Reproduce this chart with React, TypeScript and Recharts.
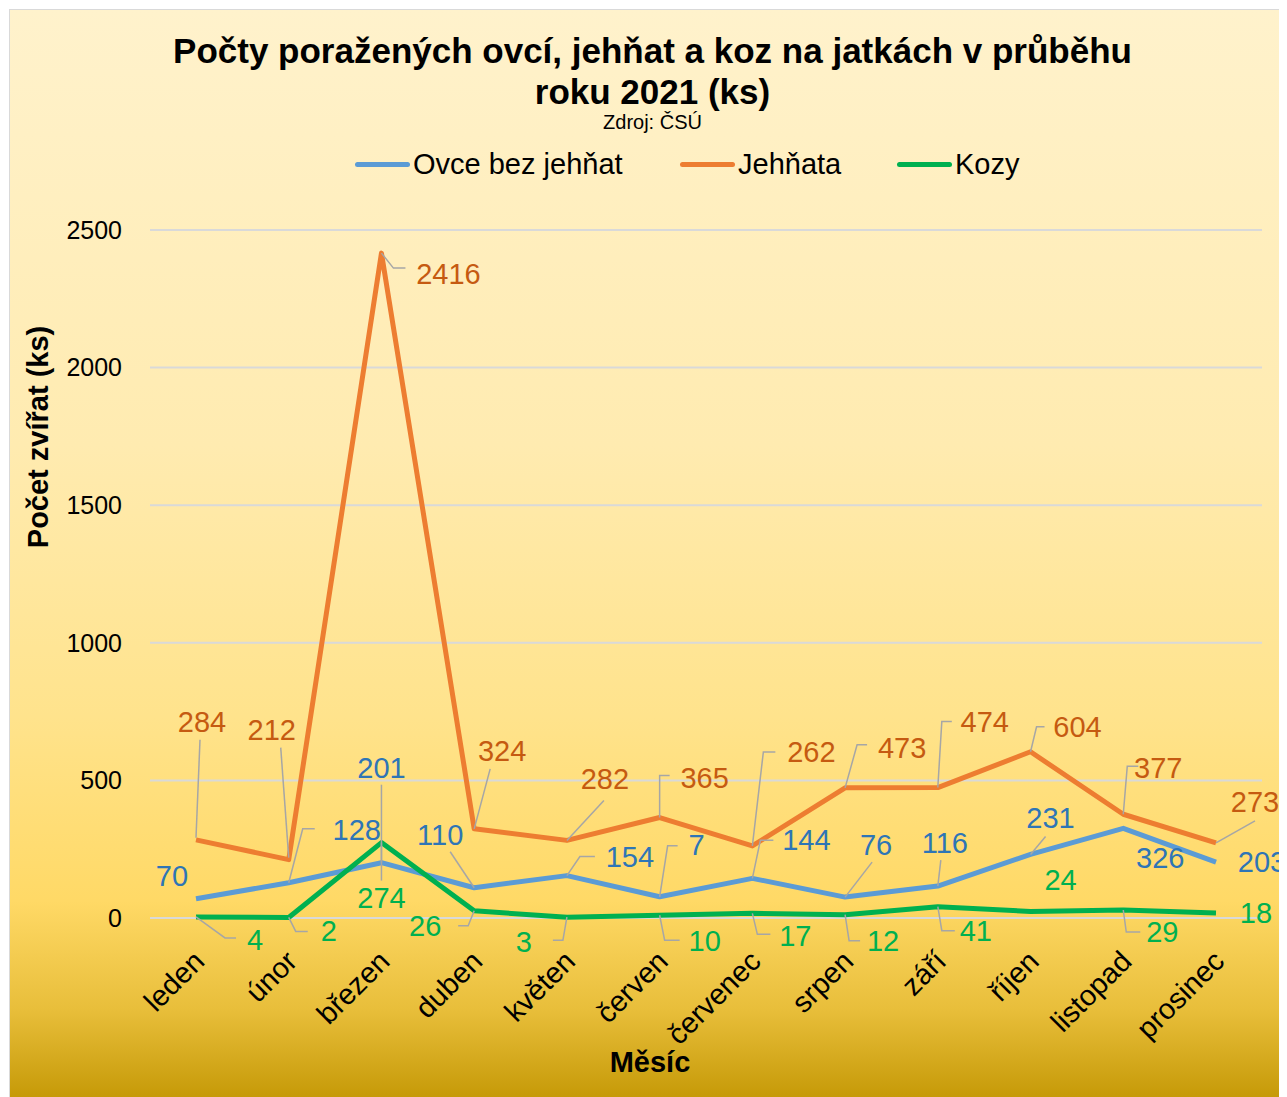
import * as React from "react"
import { LineChart, Line, XAxis, YAxis, CartesianGrid, LabelList } from "recharts"

const months = ["leden", "únor", "březen", "duben", "květen", "červen", "červenec", "srpen", "září", "říjen", "listopad", "prosinec"]
const ovce = [70, 128, 201, 110, 154, 77, 144, 76, 116, 231, 326, 203]
const ovceLabels = ["70", "128", "201", "110", "154", "7", "144", "76", "116", "231", "326", "203"]
const jehnata = [284, 212, 2416, 324, 282, 365, 262, 473, 474, 604, 377, 273]
const kozy = [4, 2, 274, 26, 3, 10, 17, 12, 41, 24, 29, 18]
const yTicks = [0, 500, 1000, 1500, 2000, 2500]

const data = months.map((m, i) => ({ month: m, ovce: ovce[i], jehnata: jehnata[i], kozy: kozy[i] }))

const FONT = "'Liberation Sans', Arial, sans-serif"
const LEADER = "#A6A6A6"

// label placement per point: label centre offset + optional leader polyline (relative to point)
type Spot = { dx: number; dy: number; lead?: number[][] }

const jehnataSpots: Spot[] = [
  { dx: 6, dy: -118, lead: [[0, -2], [4, -100]] },
  { dx: -17, dy: -130, lead: [[0, -2], [-8, -112]] },
  { dx: 67, dy: 21, lead: [[0, 0], [12, 15], [24, 15]] },
  { dx: 28, dy: -78, lead: [[0, 0], [16, -60]] },
  { dx: 38, dy: -61, lead: [[0, 0], [37, -40]] },
  { dx: 45, dy: -40, lead: [[0, 0], [0, -42], [10, -42]] },
  { dx: 59, dy: -94, lead: [[0, 0], [11, -94], [23, -94]] },
  { dx: 57, dy: -40, lead: [[0, 0], [12, -43], [22, -43]] },
  { dx: 47, dy: -66, lead: [[0, 0], [4, -66], [14, -66]] },
  { dx: 47, dy: -25, lead: [[0, 0], [6, -25], [14, -25]] },
  { dx: 35, dy: -46, lead: [[0, 0], [4, -48], [15, -48]] },
  { dx: 39, dy: -41, lead: [[0, 0], [39, -22]] },
]

const ovceSpots: Spot[] = [
  { dx: -24, dy: -23 },
  { dx: 68, dy: -53, lead: [[0, 0], [14, -54], [26, -54]] },
  { dx: 0, dy: -95, lead: [[0, 0], [0, -78]] },
  { dx: -34, dy: -53, lead: [[0, 0], [-24, -36]] },
  { dx: 63, dy: -19, lead: [[0, 0], [13, -19], [28, -19]] },
  { dx: 37, dy: -52, lead: [[0, 0], [8, -51], [18, -51]] },
  { dx: 54, dy: -38, lead: [[0, 0], [8, -38], [21, -38]] },
  { dx: 31, dy: -52, lead: [[0, 0], [27, -35]] },
  { dx: 7, dy: -43, lead: [[0, 0], [3, -26]] },
  { dx: 20, dy: -36, lead: [[0, 0], [15, -18]] },
  { dx: 37, dy: 30 },
  { dx: 46, dy: 0 },
]

const kozySpots: Spot[] = [
  { dx: 59, dy: 23, lead: [[0, 0], [29, 21], [40, 21]] },
  { dx: 40, dy: 14, lead: [[0, 0], [7, 14], [19, 14]] },
  { dx: 0, dy: 55, lead: [[0, 0], [0, 38]] },
  { dx: -49, dy: 15, lead: [[0, 0], [-6, 15], [-16, 15]] },
  { dx: -43, dy: 25, lead: [[0, 0], [-4, 23], [-14, 23]] },
  { dx: 45, dy: 26, lead: [[0, 0], [5, 25], [20, 25]] },
  { dx: 43, dy: 23, lead: [[0, 0], [5, 21], [18, 21]] },
  { dx: 38, dy: 26, lead: [[0, 0], [4, 26], [15, 26]] },
  { dx: 38, dy: 24, lead: [[0, 0], [4, 24], [17, 24]] },
  { dx: 30, dy: -31 },
  { dx: 39, dy: 22, lead: [[0, 0], [3, 22], [17, 22]] },
  { dx: 40, dy: 0 },
]

function makeLabel(spots: Spot[], color: string, texts?: string[]) {
  return (props: any) => {
    const { x, y, index, value } = props
    const s = spots[index]
    if (!s || x == null || y == null) return null
    const text = texts ? texts[index] : String(value)
    return (
      <g>
        {s.lead && (
          <polyline
            points={s.lead.map((p) => `${x + p[0]},${y + p[1]}`).join(" ")}
            fill="none"
            stroke={LEADER}
            strokeWidth={1.5}
          />
        )}
        <text x={x + s.dx} y={y + s.dy} fill={color} fontSize={29} fontFamily={FONT} textAnchor="middle" dominantBaseline="central">
          {text}
        </text>
      </g>
    )
  }
}

function MonthTick(props: any) {
  const { x, y, payload } = props
  const ax = x + 3
  const ay = y + 30
  return (
    <text
      x={ax}
      y={ay}
      transform={`rotate(-45, ${ax}, ${ay})`}
      textAnchor="end"
      dominantBaseline="central"
      fontSize={29}
      fontFamily={FONT}
      fill="#000"
    >
      {payload.value}
    </text>
  )
}

const legendItems = [
  { name: "Ovce bez jehňat", color: "#5B9BD5", left: 345 },
  { name: "Jehňata", color: "#ED7D31", left: 670 },
  { name: "Kozy", color: "#00B050", left: 887 },
]

export default function App() {
  return (
    <div
      style={{
        position: "relative",
        marginLeft: 2,
        marginTop: 2,
        width: 1277,
        height: 1087,
        outline: "1px solid #D9D9D9",
        overflow: "hidden",
        background: "linear-gradient(to bottom, #FFF2CC 0%, #FFEBB0 40%, #FFE38C 65%, #FFD966 82%, #E8BE3A 92%, #C69A08 100%)",
        fontFamily: FONT,
      }}
    >
      <div style={{ position: "absolute", top: 20, left: 0, width: 1285, textAlign: "center", fontWeight: "bold", fontSize: 35, lineHeight: "41px", color: "#000" }}>
        Počty poražených ovcí, jehňat a koz na jatkách v průběhu
        <br />
        roku 2021 (ks)
      </div>
      <div style={{ position: "absolute", top: 101, left: 0, width: 1285, textAlign: "center", fontSize: 20, color: "#000" }}>Zdroj: ČSÚ</div>
      {legendItems.map((it) => (
        <div key={it.name} style={{ position: "absolute", top: 137, left: it.left, display: "flex", alignItems: "center", height: 34 }}>
          <div style={{ width: 55, height: 5, background: it.color, borderRadius: 3 }} />
          <span style={{ fontSize: 29, marginLeft: 3, color: "#000" }}>{it.name}</span>
        </div>
      ))}
      <div
        style={{
          position: "absolute",
          left: 28,
          top: 427,
          transform: "translate(-50%, -50%) rotate(-90deg)",
          fontSize: 29,
          fontWeight: "bold",
          whiteSpace: "nowrap",
          color: "#000",
        }}
      >
        Počet zvířat (ks)
      </div>
      <div style={{ position: "absolute", top: 1036, left: 0, width: 1280, textAlign: "center", fontSize: 29, fontWeight: "bold", color: "#000" }}>Měsíc</div>
      <div style={{ position: "absolute", top: 0, left: 0 }}>
        <LineChart width={1277} height={1087} data={data} margin={{ top: 220, right: 25, left: 0, bottom: 59 }}>
          <CartesianGrid vertical={false} stroke="#D9D9D9" strokeWidth={2} />
          <XAxis
            dataKey="month"
            axisLine={false}
            tickLine={false}
            tick={<MonthTick />}
            height={120}
            interval={0}
            padding={{ left: 46, right: 46 }}
          />
          <YAxis
            domain={[0, 2500]}
            ticks={yTicks}
            width={140}
            axisLine={false}
            tickLine={false}
            tickSize={0}
            tickMargin={28}
            tick={{ fontSize: 25, fill: "#000", fontFamily: FONT }}
          />
          <Line dataKey="ovce" stroke="#5B9BD5" strokeWidth={5} dot={false} isAnimationActive={false} strokeLinejoin="round">
            <LabelList dataKey="ovce" content={makeLabel(ovceSpots, "#2E75B6", ovceLabels)} />
          </Line>
          <Line dataKey="jehnata" stroke="#ED7D31" strokeWidth={5} dot={false} isAnimationActive={false} strokeLinejoin="round">
            <LabelList dataKey="jehnata" content={makeLabel(jehnataSpots, "#C55A11")} />
          </Line>
          <Line dataKey="kozy" stroke="#00B050" strokeWidth={5} dot={false} isAnimationActive={false} strokeLinejoin="round">
            <LabelList dataKey="kozy" content={makeLabel(kozySpots, "#00B050")} />
          </Line>
        </LineChart>
      </div>
    </div>
  )
}
